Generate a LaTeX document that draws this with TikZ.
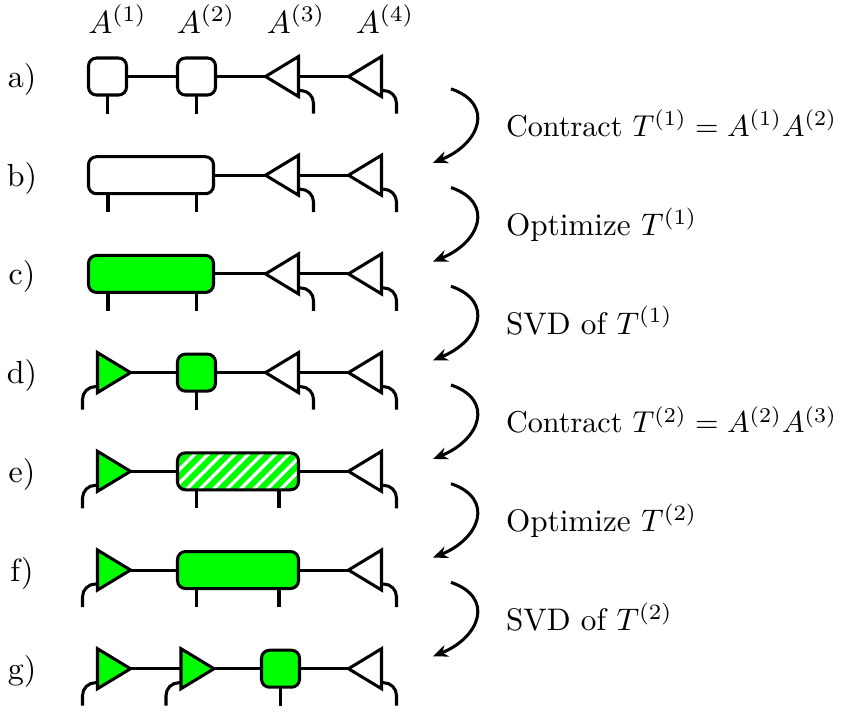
\documentclass[tikz,border=0pt]{standalone}
\usetikzlibrary{arrows.meta}

\tikzset{
  % tensor cores
  sq/.style={draw, fill=white, rounded corners=2.5pt, minimum width=11.875pt,
             minimum height=11.5625pt, inner sep=0pt, outer sep=0pt},
  wideb/.style={sq, minimum width=39.0625pt},
  widee/.style={sq, minimum width=37.8125pt},
  act/.style={fill=green},
  stripes/.style={path picture={
      \foreach \k in {-11,...,11}
        \draw[green, line width=1.85pt]
          ([xshift=\k*4.2pt]path picture bounding box.center)
          +(-20pt,-20pt) -- +(20pt,20pt);
  }},
  % isometries: left- and right-pointing triangles
  pics/tl/.style={code={
      \path[draw, fill=#1] (-16.5,0) coordinate (-tip) -- (16.5,-20) -- (16.5,20) -- cycle;
      \coordinate (-back) at (16.5,0);
      \coordinate (-hook) at (16.5,14);
      \coordinate (-end) at (31.5,37);
  }},
  pics/tr/.style={code={
      \path[draw, fill=#1] (16.5,0) coordinate (-tip) -- (-16.5,-20) -- (-16.5,20) -- cycle;
      \coordinate (-back) at (-16.5,0);
      \coordinate (-hook) at (-16.5,14);
      \coordinate (-end) at (-31.5,37);
  }},
  hookline/.style={rounded corners=4pt},
  flow/.style={-{Stealth[length=4.6pt, width=3.8pt]}},
  lab/.style={inner sep=0pt, outer sep=0pt},
  steptext/.style={lab, anchor=base west, scale=0.975},
  widetext/.style={steptext, scale=0.967},
}

\begin{document}
\begin{tikzpicture}[x=0.3125pt, y=-0.3125pt, line width=0.95pt]
  \useasboundingbox (0,0) rectangle (843,711);

  % physical-leg columns
  \coordinate (c1) at (108,0);
  \coordinate (c2) at (196.5,0);
  \coordinate (c3) at (279,0);

  % site labels
  \node[lab, anchor=base] (h1) at (117.5,33) {$A^{(1)}$};
  \node[lab, anchor=base] (h2) at (206,33) {$A^{(2)}$};
  \node[lab, anchor=base] (h3) at (296,33) {$A^{(3)}$};
  \node[lab, anchor=base] (h4) at (385,33) {$A^{(4)}$};

  % row labels
  \node[lab] (ra) at (22,79.5) {a)};
  \node[lab] (rb) at (22,178.2) {b)};
  \node[lab] (rc) at (22,276.9) {c)};
  \node[lab] (rd) at (22,375.6) {d)};
  \node[lab] (re) at (22,474.3) {e)};
  \node[lab] (rf) at (22,573) {f)};
  \node[lab] (rg) at (22,671.7) {g)};

  % a) initial MPS
  \node[sq] (a1) at (107.5,76.5) {};
  \node[sq] (a2) at (196.5,76.5) {};
  \pic (a3) at (282,76.5) {tl=white};
  \pic (a4) at (365,76.5) {tl=white};
  \draw (a1.east) -- (a2.west);
  \draw (a2.east) -- (a3-tip);
  \draw (a3-back) -- (a4-tip);
  \draw (a1.south) -- ++(0,18.5);
  \draw (a2.south) -- ++(0,18.5);
  \draw[hookline] (a3-hook) -| (a3-end);
  \draw[hookline] (a4-hook) -| (a4-end);

  % b) contracted pair
  \node[wideb] (b1) at (151,175.2) {};
  \pic (b3) at (282,175.2) {tl=white};
  \pic (b4) at (365,175.2) {tl=white};
  \draw (b1.east) -- (b3-tip);
  \draw (b3-back) -- (b4-tip);
  \draw (c1 |- b1.south) -- ++(0,18.5);
  \draw (c2 |- b1.south) -- ++(0,18.5);
  \draw[hookline] (b3-hook) -| (b3-end);
  \draw[hookline] (b4-hook) -| (b4-end);

  % c) optimized pair
  \node[wideb, act] (cc1) at (151,273.9) {};
  \pic (cc3) at (282,273.9) {tl=white};
  \pic (cc4) at (365,273.9) {tl=white};
  \draw (cc1.east) -- (cc3-tip);
  \draw (cc3-back) -- (cc4-tip);
  \draw (c1 |- cc1.south) -- ++(0,18.5);
  \draw (c2 |- cc1.south) -- ++(0,18.5);
  \draw[hookline] (cc3-hook) -| (cc3-end);
  \draw[hookline] (cc4-hook) -| (cc4-end);

  % d) after SVD
  \pic (d1) at (114,372.6) {tr=green};
  \node[sq, act] (d2) at (196.5,372.6) {};
  \pic (d3) at (282,372.6) {tl=white};
  \pic (d4) at (365,372.6) {tl=white};
  \draw (d1-tip) -- (d2.west);
  \draw (d2.east) -- (d3-tip);
  \draw (d3-back) -- (d4-tip);
  \draw (d2.south) -- ++(0,18.5);
  \draw[hookline] (d1-hook) -| (d1-end);
  \draw[hookline] (d3-hook) -| (d3-end);
  \draw[hookline] (d4-hook) -| (d4-end);

  % e) next pair contracted
  \pic (e1) at (114,471.3) {tr=green};
  \node[widee, stripes] (e2) at (238,471.3) {};
  \pic (e4) at (365,471.3) {tl=white};
  \draw (e1-tip) -- (e2.west);
  \draw (e2.east) -- (e4-tip);
  \draw (c2 |- e2.south) -- ++(0,18.5);
  \draw (c3 |- e2.south) -- ++(0,18.5);
  \draw[hookline] (e1-hook) -| (e1-end);
  \draw[hookline] (e4-hook) -| (e4-end);

  % f) next pair optimized
  \pic (f1) at (114,570) {tr=green};
  \node[widee, act] (f2) at (238,570) {};
  \pic (f4) at (365,570) {tl=white};
  \draw (f1-tip) -- (f2.west);
  \draw (f2.east) -- (f4-tip);
  \draw (c2 |- f2.south) -- ++(0,18.5);
  \draw (c3 |- f2.south) -- ++(0,18.5);
  \draw[hookline] (f1-hook) -| (f1-end);
  \draw[hookline] (f4-hook) -| (f4-end);

  % g) after second SVD
  \pic (g1) at (114,668.7) {tr=green};
  \pic (g2) at (197.5,668.7) {tr=green};
  \node[sq, act] (g3) at (280.5,668.7) {};
  \pic (g4) at (365,668.7) {tl=white};
  \draw (g1-tip) -- (g2-back);
  \draw (g2-tip) -- (g3.west);
  \draw (g3.east) -- (g4-tip);
  \draw (g3.south) -- ++(0,18.5);
  \draw[hookline] (g1-hook) -| (g1-end);
  \draw[hookline] (g2-hook) -| (g2-end);
  \draw[hookline] (g4-hook) -| (g4-end);

  % step arrows
  \foreach \m [count=\k] in {125.85,224.55,323.25,421.95,520.65,619.35} {
    \coordinate (st\k) at (451,\m-37);
    \coordinate (en\k) at (433,\m+37);
    \draw[flow] (st\k) .. controls +(44,15) and +(47,-19) .. (en\k);
  }

  % step descriptions
  \node[widetext] (s1) at (506,136.85) {Contract $T^{(1)} = A^{(1)}A^{(2)}$};
  \node[steptext] (s2) at (506,235.55) {Optimize $T^{(1)}$};
  \node[steptext] (s3) at (506,334.25) {SVD of $T^{(1)}$};
  \node[widetext] (s4) at (506,432.95) {Contract $T^{(2)} = A^{(2)}A^{(3)}$};
  \node[steptext] (s5) at (506,531.65) {Optimize $T^{(2)}$};
  \node[steptext] (s6) at (506,630.35) {SVD of $T^{(2)}$};
\end{tikzpicture}
\end{document}
